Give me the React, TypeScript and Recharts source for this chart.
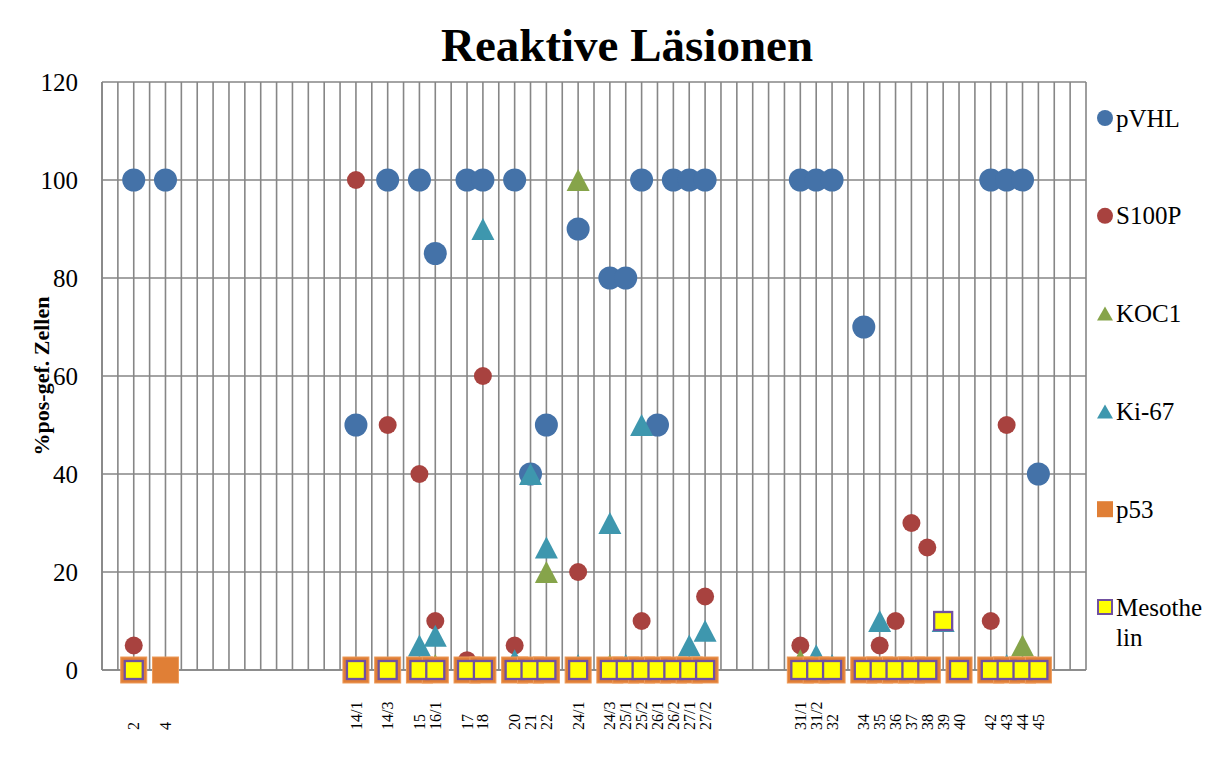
import React from "react";
import { ComposedChart, Line, XAxis, YAxis, CartesianGrid } from "recharts";

const FONT = "'Times New Roman', 'Liberation Serif', serif";
const _ = null;

// one slot per vertical gridline; empty strings have no label
const categories = [
  "", "", "2", "", "4", "", "", "", "", "",
  "", "", "", "", "", "", "14/1", "", "14/3", "",
  "15", "16/1", "", "17", "18", "", "20", "21", "22", "",
  "24/1", "", "24/3", "25/1", "25/2", "26/1", "26/2", "27/1", "27/2", "",
  "", "", "", "", "31/1", "31/2", "32", "", "34", "35",
  "36", "37", "38", "39", "40", "", "42", "43", "44", "45",
  "", "", "",
];

const pVHL = [
  _, _, 100, _, 100, _, _, _, _, _,
  _, _, _, _, _, _, 50, _, 100, _,
  100, 85, _, 100, 100, _, 100, 40, 50, _,
  90, _, 80, 80, 100, 50, 100, 100, 100, _,
  _, _, _, _, 100, 100, 100, _, 70, _,
  _, _, _, _, _, _, 100, 100, 100, 40,
  _, _, _,
];

const s100p = [
  _, _, 5, _, _, _, _, _, _, _,
  _, _, _, _, _, _, 100, _, 50, _,
  40, 10, _, 2, 60, _, 5, _, _, _,
  20, _, _, _, 10, _, _, _, 15, _,
  _, _, _, _, 5, _, _, _, _, 5,
  10, 30, 25, _, _, _, 10, 50, _, _,
  _, _, _,
];

const koc1 = [
  _, _, _, _, _, _, _, _, _, _,
  _, _, _, _, _, _, _, _, _, _,
  _, 1, _, _, _, _, _, _, 20, _,
  100, _, 1, _, _, _, _, _, 0, _,
  _, _, _, _, 2, _, _, _, _, _,
  _, _, _, _, _, _, _, _, 5, _,
  _, _, _,
];

const ki67 = [
  _, _, _, _, _, _, _, _, _, _,
  _, _, _, _, _, _, _, _, _, _,
  5, 7, _, _, 90, _, 2, 40, 25, _,
  1, _, 30, 1, 50, _, _, 5, 8, _,
  _, _, _, _, _, 3, 1, _, _, 10,
  _, _, _, 10, _, _, _, 1, _, _,
  _, _, _,
];

const p53 = [
  _, _, 0, _, 0, _, _, _, _, _,
  _, _, _, _, _, _, 0, _, 0, _,
  0, 0, _, 0, 0, _, 0, 0, 0, _,
  0, _, 0, 0, 0, 0, 0, 0, 0, _,
  _, _, _, _, 0, 0, 0, _, 0, 0,
  0, 0, 0, _, 0, _, 0, 0, 0, 0,
  _, _, _,
];

const mesothelin = [
  _, _, 0, _, _, _, _, _, _, _,
  _, _, _, _, _, _, 0, _, 0, _,
  0, 0, _, 0, 0, _, 0, 0, 0, _,
  0, _, 0, 0, 0, 0, 0, 0, 0, _,
  _, _, _, _, 0, 0, 0, _, 0, 0,
  0, 0, 0, 10, 0, _, 0, 0, 0, 0,
  _, _, _,
];

const yTicks = [0, 20, 40, 60, 80, 100, 120];

const BLUE = "#4472A8";
const RED = "#A8423F";
const GREEN = "#86A44A";
const TEAL = "#3E97AE";
const ORANGE = "#E07F36";
const YELLOW = "#FFFF00";
const PURPLE = "#7050A0";
const GRID = "#868686";

const data = categories.map((c, i) => ({
  k: i,
  pVHL: pVHL[i],
  S100P: s100p[i],
  KOC1: koc1[i],
  Ki67: ki67[i],
  p53: p53[i],
  Mesothelin: mesothelin[i],
}));

const empty = (p: any) => <g key={p.key} />;

const circleDot = (r: number, fill: string) => (p: any) => {
  if (p.value == null || p.cy == null) return empty(p);
  return <circle key={p.key} cx={p.cx} cy={p.cy} r={r} fill={fill} />;
};

const triangleDot = (w: number, h: number, fill: string) => (p: any) => {
  if (p.value == null || p.cy == null) return empty(p);
  const { cx, cy } = p;
  return (
    <path
      key={p.key}
      d={`M${cx},${cy - h / 2} L${cx + w / 2},${cy + h / 2} L${cx - w / 2},${cy + h / 2} Z`}
      fill={fill}
    />
  );
};

const squareDot = (s: number, fill: string, stroke: string, sw: number) => (p: any) => {
  if (p.value == null || p.cy == null) return empty(p);
  return (
    <rect
      key={p.key}
      x={p.cx - s / 2}
      y={p.cy - s / 2}
      width={s}
      height={s}
      fill={fill}
      stroke={stroke}
      strokeWidth={sw}
    />
  );
};

const XTick = (props: any) => {
  const { x, payload } = props;
  const label = categories[payload.value];
  if (!label) return <g />;
  return (
    <text
      x={x}
      y={730}
      transform={`rotate(-90 ${x} 730)`}
      dy="0.35em"
      textAnchor="start"
      fontSize={16}
      fontFamily={FONT}
      fill="#000"
    >
      {label}
    </text>
  );
};

const legendItems = [
  { name: ["pVHL"], shape: "circle", color: BLUE },
  { name: ["S100P"], shape: "circle", color: RED },
  { name: ["KOC1"], shape: "triangle", color: GREEN },
  { name: ["Ki-67"], shape: "triangle", color: TEAL },
  { name: ["p53"], shape: "square", color: ORANGE },
  { name: ["Mesothe", "lin"], shape: "meso", color: YELLOW },
];

function LegendMarker({ shape, color, x, y }: { shape: string; color: string; x: number; y: number }) {
  if (shape === "circle") return <circle cx={x} cy={y} r={8} fill={color} />;
  if (shape === "triangle")
    return <path d={`M${x},${y - 7} L${x + 8},${y + 7} L${x - 8},${y + 7} Z`} fill={color} />;
  if (shape === "square") return <rect x={x - 8} y={y - 8} width={16} height={16} fill={color} />;
  return <rect x={x - 7} y={y - 7} width={14} height={14} fill={color} stroke={PURPLE} strokeWidth={2} />;
}

export default function App() {
  return (
    <div style={{ position: "relative", width: 1218, height: 760, margin: -8, background: "#fff" }}>
      <ComposedChart
        width={1218}
        height={760}
        data={data}
        margin={{ top: 82, right: 132, bottom: 60, left: 42 }}
      >
        <CartesianGrid stroke={GRID} strokeWidth={1.6} />
        <XAxis
          dataKey="k"
          type="category"
          interval={0}
          tick={<XTick />}
          tickLine={false}
          axisLine={{ stroke: GRID, strokeWidth: 1.6 }}
          height={30}
        />
        <YAxis
          domain={[0, 120]}
          ticks={yTicks}
          width={60}
          tickLine={false}
          tickSize={0}
          tickMargin={24}
          axisLine={{ stroke: GRID, strokeWidth: 1.6 }}
          tick={{ fill: "#000", fontSize: 25, fontFamily: FONT }}
          label={{
            content: () => (
              <text
                x={41}
                y={376}
                transform="rotate(-90 41 376)"
                textAnchor="middle"
                dominantBaseline="central"
                fontWeight="bold"
                fontSize={22}
                fontFamily={FONT}
                fill="#000"
              >
                %pos-gef. Zellen
              </text>
            ),
          }}
        />
        <Line dataKey="pVHL" stroke="none" dot={circleDot(11.5, BLUE)} activeDot={false} isAnimationActive={false} />
        <Line dataKey="S100P" stroke="none" dot={circleDot(9, RED)} activeDot={false} isAnimationActive={false} />
        <Line dataKey="KOC1" stroke="none" dot={triangleDot(23, 22, GREEN)} activeDot={false} isAnimationActive={false} />
        <Line dataKey="Ki67" stroke="none" dot={triangleDot(23, 22, TEAL)} activeDot={false} isAnimationActive={false} />
        <Line dataKey="p53" stroke="none" dot={squareDot(26, ORANGE, "#EE9B5A", 1)} activeDot={false} isAnimationActive={false} />
        <Line dataKey="Mesothelin" stroke="none" dot={squareDot(18, YELLOW, PURPLE, 2.3)} activeDot={false} isAnimationActive={false} />
      </ComposedChart>

      <svg
        width={1218}
        height={760}
        style={{ position: "absolute", left: 0, top: 0, pointerEvents: "none" }}
      >
        <rect x={7.5} y={0.5} width={1205} height={757} fill="none" stroke="#8e8e8e" strokeWidth={1} />
        <text x={627} y={61} textAnchor="middle" fontSize={47} fontWeight="bold" fontFamily={FONT} fill="#000">
          Reaktive Läsionen
        </text>
        {legendItems.map((it, i) => {
          const y = 118 + i * 97.8;
          return (
            <g key={it.name[0]}>
              <LegendMarker shape={it.shape} color={it.color} x={1105} y={y} />
              {it.name.map((line, j) => (
                <text
                  key={line}
                  x={1116}
                  y={y + j * 30}
                  dominantBaseline="central"
                  fontSize={25}
                  fontFamily={FONT}
                  fill="#000"
                >
                  {line}
                </text>
              ))}
            </g>
          );
        })}
      </svg>
    </div>
  );
}
